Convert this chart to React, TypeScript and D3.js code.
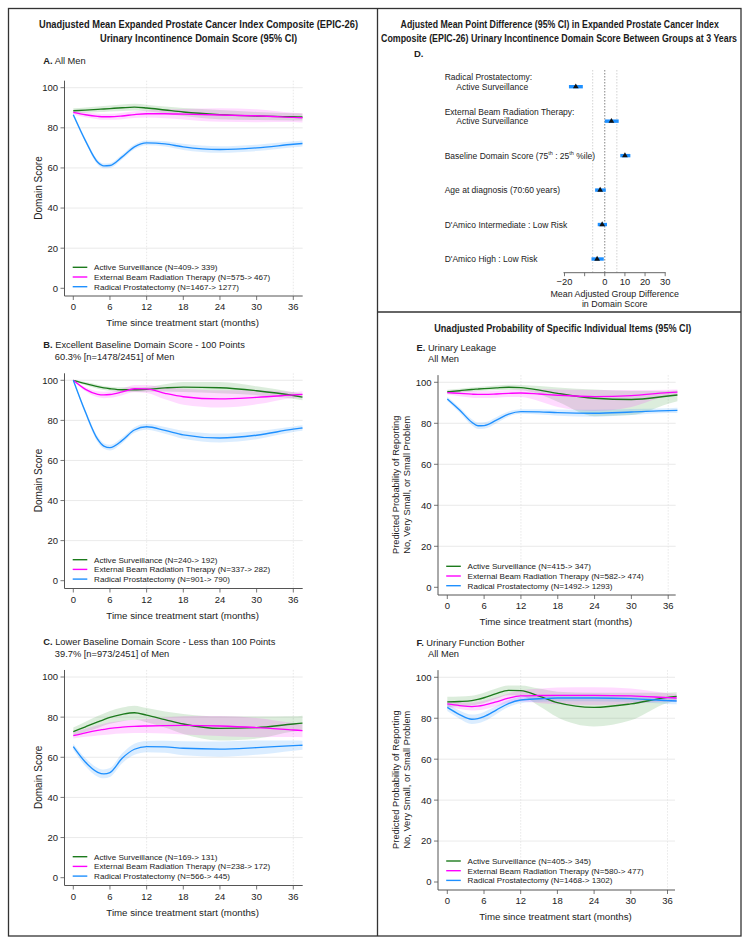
import React, { useLayoutEffect, useRef, useState } from "react";
import * as d3 from "d3";

// ---------- data ----------
const MONTHS = [0, 2, 4, 5, 6, 8, 10, 12, 15, 18, 24, 30, 36, 37.5];
const X_TICKS = [0, 6, 12, 18, 24, 30, 36];
const Y_TICKS = [0, 20, 40, 60, 80, 100];
const X_GRID = [12, 36];
const SERIES_NAMES = ["Active Surveillance", "External Beam Radiation Therapy", "Radical Prostatectomy"];

// Panel A
const A_AS = [88.5, 88.8, 89.2, 89.4, 89.6, 90.0, 90.3, 89.9, 88.9, 87.9, 86.6, 85.9, 85.5, 85.4];
const A_AS_LO = [87.3, 87.5, 87.8, 87.9, 88.1, 88.4, 88.6, 88.3, 87.2, 85.9, 84.3, 83.9, 83.7, 83.6];
const A_AS_HI = [89.7, 90.1, 90.6, 90.9, 91.1, 91.6, 92.0, 91.5, 90.6, 89.9, 88.9, 87.9, 87.3, 87.2];
const A_EB = [87.7, 86.5, 85.7, 85.5, 85.5, 85.9, 86.6, 87.0, 87.0, 86.8, 86.4, 86.0, 85.2, 85.0];
const A_EB_LO = [86.7, 85.3, 84.3, 84.0, 84.0, 84.3, 84.9, 85.2, 84.8, 84.2, 83.0, 82.8, 82.9, 82.7];
const A_EB_HI = [88.7, 87.7, 87.1, 87.0, 87.0, 87.5, 88.3, 88.8, 89.2, 89.4, 89.8, 89.2, 87.5, 87.3];
const A_RP = [86.5, 73.5, 62.8, 61.0, 61.2, 65.5, 70.5, 72.5, 72.0, 70.5, 69.2, 70.0, 71.8, 72.2];
const A_RP_LO = [85.5, 72.5, 61.6, 59.8, 60.0, 64.3, 69.3, 71.3, 70.7, 69.0, 67.6, 68.4, 70.3, 70.7];
const A_RP_HI = [87.5, 74.5, 64.0, 62.2, 62.4, 66.7, 71.7, 73.7, 73.3, 72.0, 70.8, 71.6, 73.3, 73.7];
const A_N = ["(N=409-> 339)", "(N=575-> 467)", "(N=1467-> 1277)"];

// Panel B
const B_AS = [100, 98.3, 96.8, 96.2, 95.8, 95.3, 95.3, 95.5, 96.2, 96.6, 96.3, 94.8, 92.4, 91.6];
const B_AS_LO = [99.7, 97.5, 95.8, 95.2, 94.8, 94.1, 94.1, 94.3, 94.4, 94.1, 93.5, 92.6, 90.8, 90.0];
const B_AS_HI = [100.3, 99.1, 97.8, 97.2, 96.8, 96.5, 96.5, 96.7, 98.0, 99.1, 99.1, 97.0, 94.0, 93.2];
const B_EB = [100, 95.5, 93.0, 92.7, 92.9, 94.2, 95.8, 95.7, 93.5, 91.8, 90.7, 91.5, 92.7, 93.0];
const B_EB_LO = [99.7, 94.5, 91.5, 91.1, 91.3, 92.6, 94.0, 93.7, 90.5, 87.8, 86.4, 88.0, 91.2, 91.5];
const B_EB_HI = [100.3, 96.5, 94.5, 94.3, 94.5, 95.8, 97.6, 97.7, 96.5, 95.8, 95.0, 95.0, 94.2, 94.5];
const B_RP = [100, 84.0, 70.5, 67.2, 66.4, 70.0, 75.2, 76.8, 75.0, 72.8, 71.2, 72.6, 75.6, 76.2];
const B_RP_LO = [99.7, 82.8, 69.1, 65.8, 65.0, 68.6, 73.8, 75.3, 73.3, 70.8, 69.0, 70.6, 74.2, 74.8];
const B_RP_HI = [100.3, 85.2, 71.9, 68.6, 67.8, 71.4, 76.6, 78.3, 76.7, 74.8, 73.4, 74.6, 77.0, 77.6];
const B_N = ["(N=240-> 192)", "(N=337-> 282)", "(N=901-> 790)"];

// Panel C
const C_AS = [72.8, 75.2, 77.6, 78.8, 79.9, 81.4, 82.2, 81.0, 78.8, 76.6, 74.4, 74.8, 76.6, 77.0];
const C_AS_LO = [70.8, 72.7, 74.6, 75.8, 76.7, 78.0, 78.7, 77.5, 74.8, 71.6, 68.4, 69.3, 72.8, 73.3];
const C_AS_HI = [74.8, 77.7, 80.6, 81.8, 83.1, 84.8, 85.7, 84.5, 82.8, 81.6, 80.4, 80.3, 80.4, 80.7];
const C_EB = [70.8, 72.2, 73.4, 73.9, 74.4, 75.0, 75.4, 75.6, 75.8, 75.9, 75.6, 74.8, 73.6, 73.3];
const C_EB_LO = [69.3, 70.2, 70.9, 71.1, 71.4, 71.8, 72.1, 72.1, 71.8, 71.4, 70.6, 70.0, 70.1, 70.0];
const C_EB_HI = [72.3, 74.2, 75.9, 76.7, 77.4, 78.2, 78.7, 79.1, 79.8, 80.4, 80.6, 79.6, 77.1, 76.6];
const C_RP = [65.3, 57.5, 52.5, 51.7, 52.4, 59.5, 64.0, 65.3, 65.2, 64.5, 64.1, 64.8, 65.8, 66.0];
const C_RP_LO = [63.8, 55.5, 50.3, 49.5, 50.2, 57.0, 61.2, 62.5, 62.2, 61.0, 60.3, 61.3, 63.3, 63.8];
const C_RP_HI = [66.8, 59.5, 54.7, 53.9, 54.6, 62.0, 66.8, 68.1, 68.2, 68.0, 67.9, 68.3, 68.3, 68.2];
const C_N = ["(N=169-> 131)", "(N=238-> 172)", "(N=566-> 445)"];

// Panel E
const E_AS = [95.4, 95.9, 96.5, 96.7, 96.9, 97.3, 97.6, 97.4, 96.2, 94.6, 92.2, 91.6, 93.3, 93.8];
const E_AS_LO = [94.4, 94.9, 95.5, 95.7, 95.9, 96.2, 96.4, 96.1, 94.2, 90.5, 83.5, 84.0, 89.5, 90.8];
const E_AS_HI = [96.4, 96.9, 97.5, 97.7, 97.9, 98.4, 98.8, 98.7, 98.2, 97.5, 96.5, 95.8, 95.8, 96.0];
const E_EB = [95.0, 94.6, 94.2, 94.1, 94.1, 94.3, 94.6, 94.8, 94.3, 93.7, 93.0, 93.5, 95.0, 95.2];
const E_EB_LO = [94.0, 93.2, 92.5, 92.3, 92.3, 92.5, 92.8, 92.8, 90.8, 88.0, 86.0, 88.0, 93.3, 93.6];
const E_EB_HI = [96.0, 95.9, 95.8, 95.8, 95.8, 96.0, 96.3, 96.6, 96.6, 96.5, 96.3, 96.2, 96.4, 96.5];
const E_RP = [91.9, 86.5, 80.5, 78.8, 78.9, 81.5, 84.5, 85.7, 85.6, 85.2, 84.9, 85.5, 86.2, 86.3];
const E_RP_LO = [90.9, 85.3, 79.0, 77.2, 77.3, 80.0, 83.3, 84.6, 84.3, 83.7, 83.2, 84.0, 85.0, 85.0];
const E_RP_HI = [92.9, 87.7, 82.0, 80.4, 80.5, 83.0, 85.7, 86.8, 86.9, 86.7, 86.6, 87.0, 87.4, 87.6];
const E_N = ["(N=415-> 347)", "(N=582-> 474)", "(N=1492-> 1293)"];

// Panel F
const F_AS = [88.0, 88.2, 88.6, 89.2, 90.0, 92.0, 93.6, 93.5, 90.8, 87.6, 85.3, 87.0, 90.2, 90.7];
const F_AS_LO = [85.5, 85.8, 86.2, 86.8, 87.5, 89.5, 91.2, 91.0, 86.0, 80.5, 76.0, 79.0, 87.5, 88.5];
const F_AS_HI = [90.5, 90.6, 91.0, 91.6, 92.5, 94.5, 96.0, 96.0, 94.5, 93.0, 92.5, 92.5, 92.5, 92.7];
const F_EB = [87.0, 86.2, 85.7, 85.9, 86.4, 88.0, 89.8, 90.9, 91.1, 91.2, 91.2, 90.9, 90.1, 89.9];
const F_EB_LO = [85.5, 84.5, 83.8, 83.9, 84.3, 85.8, 87.5, 88.2, 87.5, 86.8, 86.5, 87.0, 88.0, 88.0];
const F_EB_HI = [88.5, 87.9, 87.6, 87.9, 88.5, 90.2, 92.1, 93.6, 94.4, 95.0, 95.2, 94.5, 92.2, 91.8];
const F_RP = [85.3, 81.8, 79.5, 79.8, 80.8, 84.0, 87.2, 88.9, 89.5, 89.9, 89.9, 89.6, 88.6, 88.4];
const F_RP_LO = [83.5, 79.8, 77.2, 77.5, 78.5, 82.0, 85.5, 87.3, 88.0, 88.3, 88.3, 88.0, 87.0, 86.8];
const F_RP_HI = [87.1, 83.8, 81.8, 82.1, 83.1, 86.0, 88.9, 90.5, 91.0, 91.5, 91.5, 91.2, 90.2, 90.0];
const F_N = ["(N=405-> 345)", "(N=580-> 477)", "(N=1468-> 1302)"];

// Panel D (forest)
const D_ROWS = ["rp", "ebrt", "base", "age", "inter", "high"];
const D_EST = [-14.4, 3.3, 10.0, -2.3, -1.3, -3.8];
const D_LO = [-17.8, 0.0, 7.7, -4.8, -3.5, -6.6];
const D_HI = [-10.9, 6.9, 12.7, 0.5, 1.1, -0.5];
const D_TICKS = [-20, -10, 0, 10, 20, 30];
const D_TICK_LABELS = ["\u221220", "", "0", "10", "20", "30"];
const D_REFS = [-6, 6];

// ---------- styles ----------
const COLORS = ["#1c7a1c", "#ff00ff", "#1e90ff"];
const BAND = ["rgba(40,140,40,0.16)", "rgba(255,0,255,0.14)", "rgba(30,144,255,0.16)"];
const FONT = "'Liberation Sans', Arial, Helvetica, sans-serif";
const TXT = "#222";

type Layout = { axisX: number; x0: number; x36: number; xEnd: number; y0: number; y100: number; axisY: number };

function LinePanel({ L, means, los, his, ns, yLabel }: { L: Layout; means: number[][]; los: number[][]; his: number[][]; ns: string[]; yLabel: string[] }) {
  const x = d3.scaleLinear().domain([0, 36]).range([L.x0, L.x36]);
  const y = d3.scaleLinear().domain([0, 100]).range([L.y0, L.y100]);
  const yTop = y(103.5);
  const line = d3.line<number>().x((_, i) => x(MONTHS[i])).y((d) => y(d)).curve(d3.curveMonotoneX);
  const band = (lo: number[], hi: number[]) =>
    d3
      .area<number>()
      .x((_, i) => x(MONTHS[i]))
      .y0((_, i) => y(lo[i]))
      .y1((_, i) => y(hi[i]))
      .curve(d3.curveMonotoneX)(lo);
  const midY = (L.y0 + L.y100) / 2;
  return (
    <g>
      {Y_TICKS.filter((t) => t > 0).map((t) => (
        <line key={"g" + t} x1={L.axisX} x2={L.xEnd} y1={y(t)} y2={y(t)} stroke="#e4e4e4" strokeWidth={0.8} />
      ))}
      {X_GRID.map((t) => (
        <line key={"v" + t} x1={x(t)} x2={x(t)} y1={yTop} y2={L.axisY} stroke="#e2e2e2" strokeWidth={0.8} strokeDasharray="1.5,1.5" />
      ))}
      {[0, 1, 2].map((s) => (
        <path key={"b" + s} d={band(los[s], his[s]) || ""} fill={BAND[s]} stroke="none" />
      ))}
      {[0, 1, 2].map((s) => (
        <path key={"l" + s} d={line(means[s]) || ""} fill="none" stroke={COLORS[s]} strokeWidth={1.35} />
      ))}
      <line x1={L.axisX} x2={L.axisX} y1={yTop} y2={L.axisY} stroke="#555" strokeWidth={1} />
      <line x1={L.axisX} x2={L.xEnd} y1={L.axisY} y2={L.axisY} stroke="#555" strokeWidth={1} />
      {Y_TICKS.map((t) => (
        <g key={"yt" + t}>
          <line x1={L.axisX - 4} x2={L.axisX} y1={y(t)} y2={y(t)} stroke="#555" strokeWidth={0.8} />
          <text x={L.axisX - 6.5} y={y(t) + 3.4} textAnchor="end" fontSize={9.5} fill={TXT} fontFamily={FONT}>
            {t}
          </text>
        </g>
      ))}
      {X_TICKS.map((t) => (
        <g key={"xt" + t}>
          <line x1={x(t)} x2={x(t)} y1={L.axisY} y2={L.axisY + 4} stroke="#555" strokeWidth={0.8} />
          <text x={x(t)} y={L.axisY + 14.3} textAnchor="middle" fontSize={9.5} fill={TXT} fontFamily={FONT}>
            {t}
          </text>
        </g>
      ))}
      <text x={(L.axisX + L.xEnd) / 2 - 1} y={L.axisY + 30.3} textAnchor="middle" fontSize={9.7} fill={TXT} fontFamily={FONT}>
        Time since treatment start (months)
      </text>
      {yLabel.length === 1 ? (
        <text transform={`translate(${L.axisX - 23},${midY}) rotate(-90)`} textAnchor="middle" fontSize={10} fill={TXT} fontFamily={FONT}>
          {yLabel[0]}
        </text>
      ) : (
        yLabel.map((t, i) => (
          <text key={t} transform={`translate(${L.axisX - 39.5 + i * 11},${midY}) rotate(-90)`} textAnchor="middle" fontSize={9.3} fill={TXT} fontFamily={FONT}>
            {t}
          </text>
        ))
      )}
      {[0, 1, 2].map((s) => {
        const ly = L.y0 - 21 + s * 9.7;
        return (
          <g key={"lg" + s}>
            <line x1={L.axisX + 8.2} x2={L.axisX + 22.8} y1={ly} y2={ly} stroke={COLORS[s]} strokeWidth={1.4} />
            <text x={L.axisX + 29.6} y={ly + 3} fontSize={8.1} fill={TXT} fontFamily={FONT}>
              {SERIES_NAMES[s] + " " + ns[s]}
            </text>
          </g>
        );
      })}
    </g>
  );
}

function Header({ x, y, letter, lines }: { x: number; y: number; letter: string; lines: string[] }) {
  return (
    <g fontFamily={FONT} fontSize={9.3} fill={TXT}>
      <text x={x} y={y}>
        <tspan fontWeight="bold">{letter}</tspan>
        <tspan>{" " + lines[0]}</tspan>
      </text>
      {lines.slice(1).map((t, i) => (
        <text key={t} x={x + 11.5} y={y + 11.6 * (i + 1)}>
          {t}
        </text>
      ))}
    </g>
  );
}

// Title drawn in bold and condensed horizontally to the width it has in the reference
function Title({ cx, y, text, width }: { cx: number; y: number; text: string; width: number }) {
  const ref = useRef<SVGTextElement>(null);
  const [sx, setSx] = useState(0.8);
  useLayoutEffect(() => {
    if (ref.current) {
      const w = ref.current.getComputedTextLength();
      if (w > 0) setSx(width / w);
    }
  }, [text, width]);
  return (
    <text
      ref={ref}
      transform={`translate(${cx},${y}) scale(${sx},1)`}
      textAnchor="middle"
      fontFamily={FONT}
      fontWeight="bold"
      fontSize={11.2}
      fill="#1a1a1a"
    >
      {text}
    </text>
  );
}

function Forest() {
  const x = d3.scaleLinear().domain([-20, 30]).range([564.5, 665.2]);
  const yRow = d3.scalePoint<string>().domain(D_ROWS).range([86.7, 259]);
  const axisY = 272.7;
  const lx = 444.7;
  const fs = 8.5;
  const row = (i: number) => yRow(D_ROWS[i]) as number;
  return (
    <g fontFamily={FONT} fill={TXT}>
      <text x={414} y={56.8} fontSize={9.5} fontWeight="bold">D.</text>
      {D_REFS.map((r) => (
        <line key={r} x1={x(r)} x2={x(r)} y1={70} y2={axisY} stroke="#c8c8c8" strokeWidth={0.8} strokeDasharray="1.5,1.5" />
      ))}
      <line x1={x(0)} x2={x(0)} y1={70} y2={axisY} stroke="#666" strokeWidth={0.8} strokeDasharray="1.5,1.5" />
      {D_ROWS.map((r, i) => (
        <g key={r}>
          <line x1={x(D_LO[i])} x2={x(D_HI[i])} y1={row(i)} y2={row(i)} stroke="#1e90ff" strokeWidth={3.4} />
          <path d={d3.symbol(d3.symbolTriangle, 14)() || ""} transform={`translate(${x(D_EST[i])},${row(i)})`} fill="#111" />
        </g>
      ))}
      <text x={lx} y={row(0) - 9.4 + 3} fontSize={fs}>Radical Prostatectomy:</text>
      <text x={lx + 11.6} y={row(0) + 3} fontSize={fs}>Active Surveillance</text>
      <text x={lx} y={row(1) - 9.4 + 3} fontSize={fs}>External Beam Radiation Therapy:</text>
      <text x={lx + 11.6} y={row(1) + 3} fontSize={fs}>Active Surveillance</text>
      <text x={lx} y={row(2) + 3} fontSize={fs}>
        Baseline Domain Score (75
        <tspan fontSize={5.5} dy={-3.5}>th</tspan>
        <tspan dy={3.5}> : 25</tspan>
        <tspan fontSize={5.5} dy={-3.5}>th</tspan>
        <tspan dy={3.5}> %ile)</tspan>
      </text>
      <text x={lx} y={row(3) + 3} fontSize={fs}>Age at diagnosis (70:60 years)</text>
      <text x={lx} y={row(4) + 3} fontSize={fs}>D'Amico Intermediate : Low Risk</text>
      <text x={lx} y={row(5) + 3} fontSize={fs}>D'Amico High : Low Risk</text>
      <line x1={x(-20) - 1} x2={x(30) + 0.5} y1={axisY} y2={axisY} stroke="#555" strokeWidth={0.9} />
      {D_TICKS.map((t, i) => (
        <g key={t}>
          <line x1={x(t)} x2={x(t)} y1={axisY} y2={axisY + 3.5} stroke="#555" strokeWidth={0.8} />
          <text x={x(t)} y={axisY + 12.5} textAnchor="middle" fontSize={9.3}>{D_TICK_LABELS[i]}</text>
        </g>
      ))}
      <text x={614.7} y={296.6} textAnchor="middle" fontSize={8.9}>Mean Adjusted Group Difference</text>
      <text x={614.7} y={306.6} textAnchor="middle" fontSize={8.9}>in Domain Score</text>
    </g>
  );
}

const LA: Layout = { axisX: 64.5, x0: 73.3, x36: 293.3, xEnd: 302.7, y0: 288.3, y100: 87.7, axisY: 296 };
const LB: Layout = { axisX: 64.5, x0: 73.3, x36: 293.3, xEnd: 302.7, y0: 580.7, y100: 380.3, axisY: 588.5 };
const LC: Layout = { axisX: 64.5, x0: 73.3, x36: 293.3, xEnd: 302.7, y0: 877.7, y100: 677, axisY: 885.5 };
const LE: Layout = { axisX: 438, x0: 447.3, x36: 668.2, xEnd: 675.7, y0: 587.3, y100: 382.3, axisY: 595 };
const LF: Layout = { axisX: 438, x0: 447.3, x36: 667.5, xEnd: 675, y0: 882, y100: 677.3, axisY: 890 };

export default function App() {
  const probLabel = ["Predicted Probability of Reporting", "No, Very Small, or Small Problem"];
  return (
    <svg width={751} height={946} style={{ position: "absolute", left: 0, top: 0, background: "#fff" }}>
      <rect x={0} y={0} width={751} height={946} fill="#fff" />
      <rect x={8.5} y={8.5} width={732.5} height={927.5} fill="none" stroke="#333" strokeWidth={1.3} />
      <line x1={377.5} x2={377.5} y1={8.5} y2={936} stroke="#333" strokeWidth={1.3} />
      <line x1={377.5} x2={741} y1={312} y2={312} stroke="#333" strokeWidth={1.3} />

      <Title cx={198.5} y={28.2} width={319} text="Unadjusted Mean Expanded Prostate Cancer Index Composite (EPIC-26)" />
      <Title cx={198.5} y={41.7} width={197} text="Urinary Incontinence Domain Score (95% CI)" />
      <Title cx={559.7} y={28.2} width={318} text="Adjusted Mean Point Difference (95% CI) in Expanded Prostate Cancer Index" />
      <Title cx={559} y={41.7} width={356} text="Composite (EPIC-26) Urinary Incontinence Domain Score  Between Groups at 3 Years" />
      <Title cx={562.7} y={331.5} width={257} text="Unadjusted Probability of Specific Individual Items (95% CI)" />

      <Header x={43.3} y={63.5} letter="A." lines={["All Men"]} />
      <Header x={43.3} y={348} letter="B." lines={["Excellent Baseline Domain Score - 100 Points", "60.3% [n=1478/2451] of Men"]} />
      <Header x={43.3} y={645} letter="C." lines={["Lower Baseline Domain Score - Less than 100 Points", "39.7% [n=973/2451] of Men"]} />
      <Header x={416.5} y={350.5} letter="E." lines={["Urinary Leakage", "All Men"]} />
      <Header x={416.5} y={645.5} letter="F." lines={["Urinary Function Bother", "All Men"]} />

      <LinePanel L={LA} means={[A_AS, A_EB, A_RP]} los={[A_AS_LO, A_EB_LO, A_RP_LO]} his={[A_AS_HI, A_EB_HI, A_RP_HI]} ns={A_N} yLabel={["Domain Score"]} />
      <LinePanel L={LB} means={[B_AS, B_EB, B_RP]} los={[B_AS_LO, B_EB_LO, B_RP_LO]} his={[B_AS_HI, B_EB_HI, B_RP_HI]} ns={B_N} yLabel={["Domain Score"]} />
      <LinePanel L={LC} means={[C_AS, C_EB, C_RP]} los={[C_AS_LO, C_EB_LO, C_RP_LO]} his={[C_AS_HI, C_EB_HI, C_RP_HI]} ns={C_N} yLabel={["Domain Score"]} />
      <LinePanel L={LE} means={[E_AS, E_EB, E_RP]} los={[E_AS_LO, E_EB_LO, E_RP_LO]} his={[E_AS_HI, E_EB_HI, E_RP_HI]} ns={E_N} yLabel={probLabel} />
      <LinePanel L={LF} means={[F_AS, F_EB, F_RP]} los={[F_AS_LO, F_EB_LO, F_RP_LO]} his={[F_AS_HI, F_EB_HI, F_RP_HI]} ns={F_N} yLabel={probLabel} />

      <Forest />
    </svg>
  );
}
